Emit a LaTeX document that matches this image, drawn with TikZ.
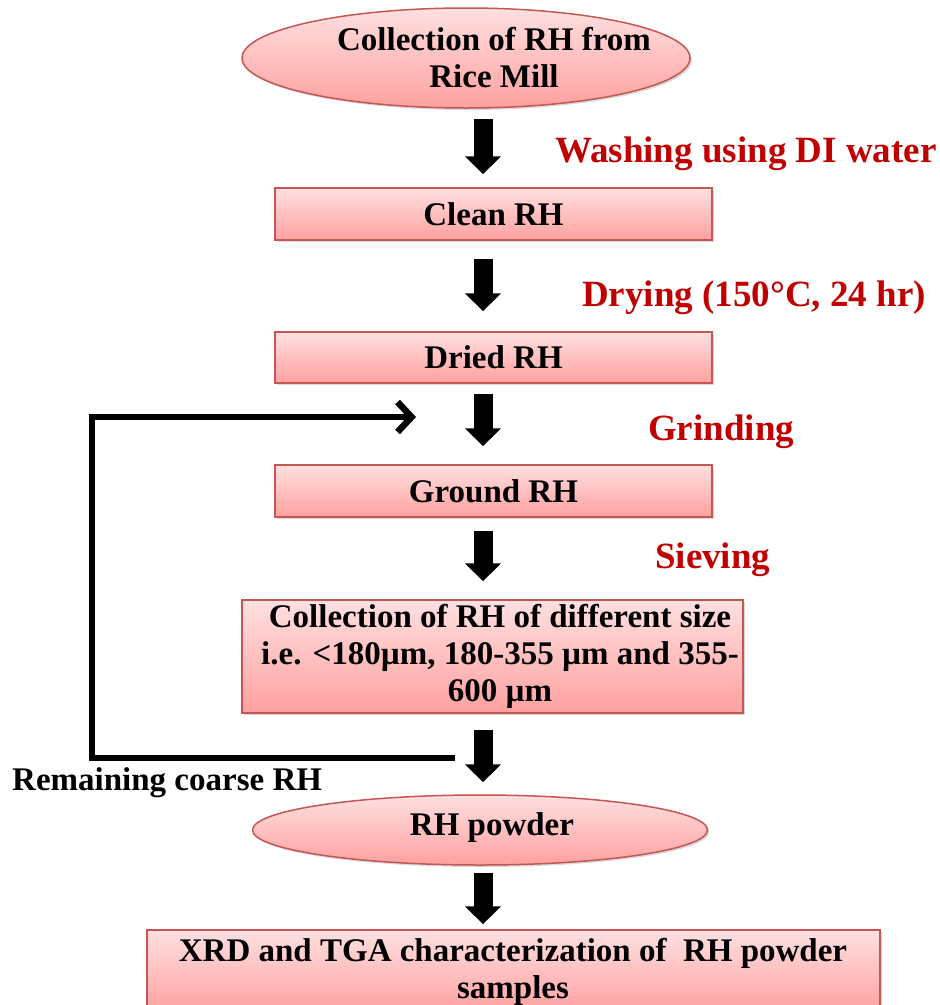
\documentclass[tikz,border=0pt]{standalone}
\usepackage{fontspec}
\setmainfont{Liberation Serif}
\usetikzlibrary{arrows.meta,shapes.geometric,shadows,calc}
\definecolor{boxtop}{RGB}{255,224,224}
\definecolor{boxbot}{RGB}{255,160,160}
\definecolor{boxline}{RGB}{196,86,84}
\definecolor{labred}{RGB}{192,0,0}
\begin{document}
\begin{tikzpicture}[x=1pt,y=-1pt,
  shapebase/.style={draw=boxline, line width=1.5pt, top color=boxtop, bottom color=boxbot,
    drop shadow={shadow xshift=2pt, shadow yshift=-2pt, opacity=0.3}, inner sep=0pt},
  procbox/.style={shapebase, rectangle, align=center, font=\bfseries\fontsize{33}{37}\selectfont},
  ellip/.style={shapebase, ellipse},
  txt/.style={align=center, inner sep=0pt, font=\bfseries\fontsize{33}{37}\selectfont},
  redlab/.style={anchor=west, inner sep=0pt, text=labred, font=\bfseries\fontsize{37}{40}\selectfont},
  blockarrow/.style={line width=19pt, -{Triangle[width=35pt,length=18pt]}},
  fbline/.style={line width=6.5pt, -{Straight Barb[width=30pt,length=14pt]}}
]
\useasboundingbox (0,0) rectangle (940,1005);
\clip (0,0) rectangle (940,1005);

% nodes
\node[ellip, minimum width=448pt, minimum height=100pt] (e1) at (466,58) {};
\node[txt] (e1t) at (494,58) {Collection of RH from\\Rice Mill};
\node[procbox, minimum width=437pt, minimum height=52pt] (clean) at (493.5,214) {Clean RH};
\node[procbox, minimum width=437pt, minimum height=51pt] (dried) at (493.5,357.5) {Dried RH};
\node[procbox, minimum width=437pt, minimum height=52pt] (ground) at (493.5,491) {Ground RH};
\node[procbox, minimum width=501pt, minimum height=113pt] (coll) at (492.5,656.5) {};
\node[txt] (collt) at (500,656) {Collection of RH of different size\\i.e. <180µm, 180-355 µm and 355-\\600 µm};
\node[ellip, minimum width=455pt, minimum height=70pt] (e2) at (480,830) {};
\node[txt] (e2t) at (492,828) {RH powder};
\node[procbox, minimum width=733pt, minimum height=84pt] (final) at (513.5,972) {};
\node[txt] (finalt) at (513,972) {XRD and TGA characterization of~ RH powder\\samples};

% labels
\node[redlab] (l1) at (555,154) {Washing using DI water};
\node[redlab] (l2) at (582,298) {Drying (150°C, 24 hr)};
\node[redlab] (l3) at (648,432) {Grinding};
\node[redlab] (l4) at (655,560) {Sieving};
\node[txt, anchor=west] (rem) at (12,783) {Remaining coarse RH};

% block arrows
\coordinate (ax) at (483,0);
\draw[blockarrow] ($(e1.south -| ax)+(0,10)$) -- ($(clean.north -| ax)+(0,-13)$);
\draw[blockarrow] ($(clean.south -| ax)+(0,18)$) -- ($(dried.north -| ax)+(0,-20)$);
\draw[blockarrow] ($(dried.south -| ax)+(0,10)$) -- ($(ground.north -| ax)+(0,-18)$);
\draw[blockarrow] ($(ground.south -| ax)+(0,13)$) -- ($(coll.north -| ax)+(0,-18)$);
\draw[blockarrow] ($(coll.south -| ax)+(0,16)$) -- ($(e2.north -| ax)+(0,-12)$);
\draw[blockarrow] ($(e2.south -| ax)+(0,7)$) -- ($(final.north -| ax)+(0,-5)$);

% feedback loop
\coordinate (fbs) at (455,758);
\coordinate (fbc) at (92,417);
\coordinate (fbe) at (416,417);
\draw[fbline] (fbs) -| (fbc) -- (fbe);
\end{tikzpicture}
\end{document}
